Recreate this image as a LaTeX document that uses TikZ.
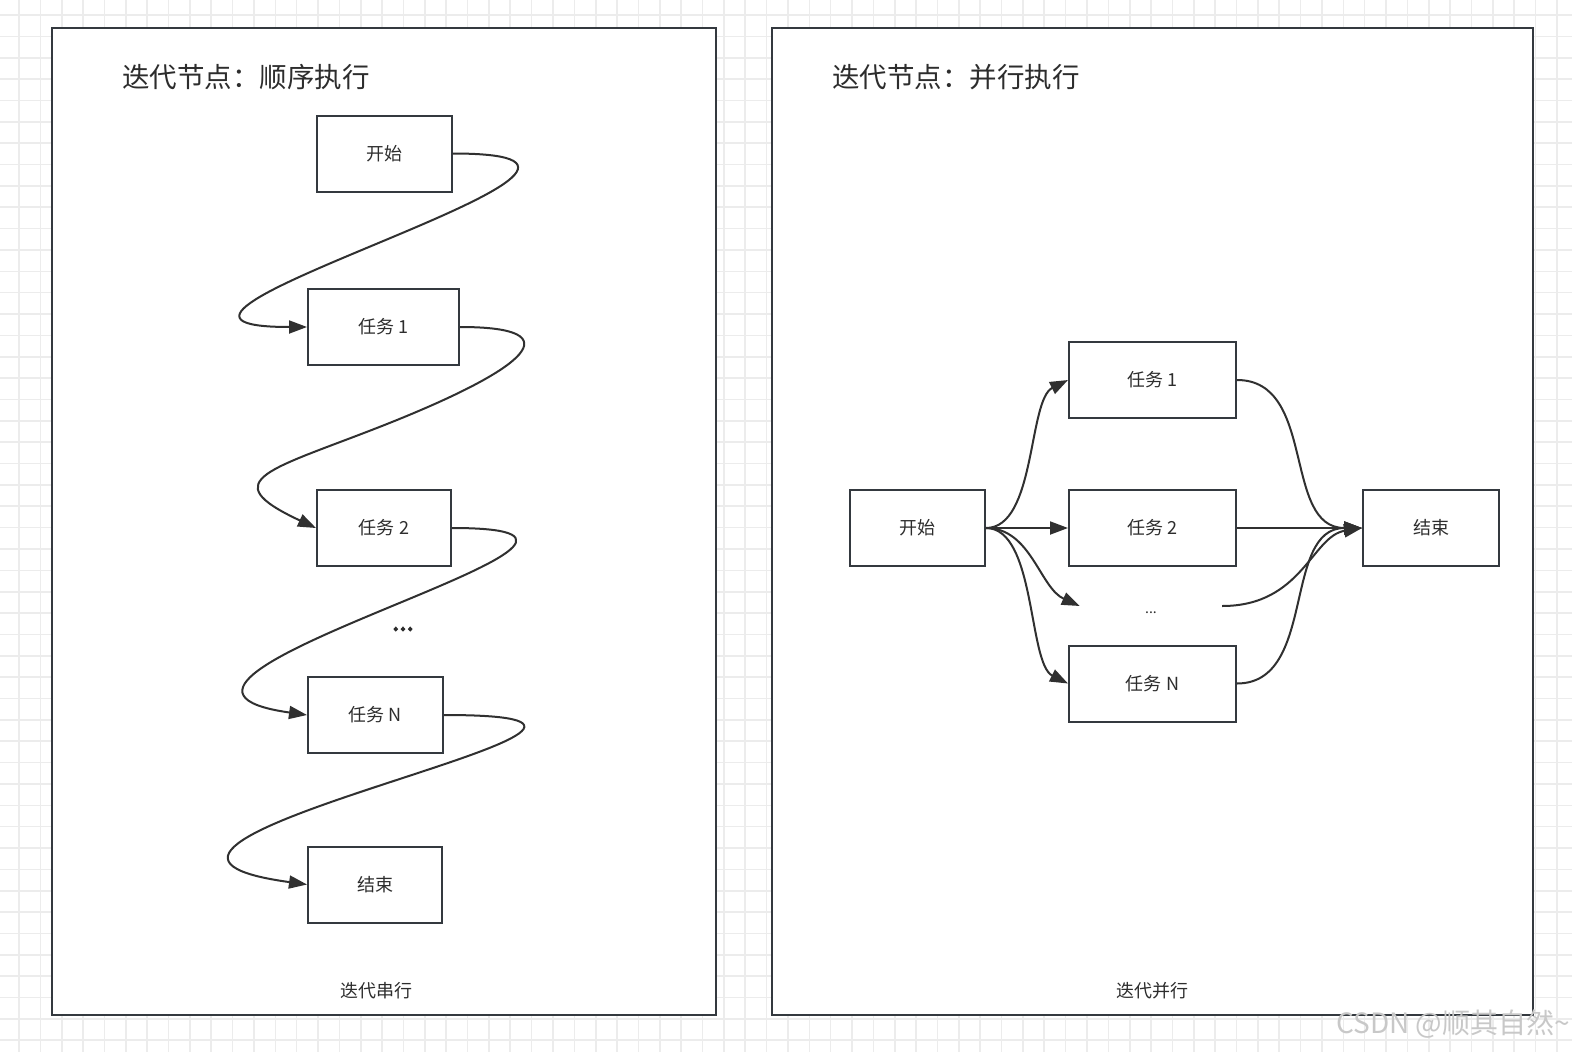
\documentclass[tikz,border=0pt]{standalone}
\usepackage{fontspec}
\setmainfont{Noto Sans CJK SC}
\newfontfamily\boldcjk[FakeBold=4]{Noto Sans CJK SC}
\usetikzlibrary{arrows.meta}
\definecolor{gridc}{RGB}{236,236,236}
\definecolor{bordc}{RGB}{52,57,63}
\definecolor{edgec}{RGB}{48,48,48}
\definecolor{textc}{RGB}{45,45,45}
\definecolor{wmc}{RGB}{200,200,200}
\tikzset{
  gridline/.style={draw=gridc, line width=1.6pt},
  panel/.style={draw=bordc, line width=2.4pt, fill=white, inner sep=0pt},
  box/.style={draw=bordc, line width=2pt, fill=white, minimum height=76pt, inner sep=0pt,
    font=\fontsize{18}{18}\selectfont, text=textc},
  titletext/.style={inner sep=0pt, font=\fontsize{27.5}{27.5}\selectfont, text=textc},
  lbl/.style={inner sep=0pt, font=\fontsize{18}{18}\selectfont, text=textc},
  conn/.style={draw=edgec, line width=2pt, -{Triangle[length=18pt,width=13pt]}},
  wm/.style={inner sep=0pt, font=\fontsize{28}{28}\selectfont, text=wmc}
}
\begin{document}
\begin{tikzpicture}[x=1pt,y=-1pt]
\useasboundingbox (0,0) rectangle (1572,1052);
\fill[white] (0,0) rectangle (1572,1052);
% background grid
\foreach \i in {0,...,73} \draw[gridline] ({19+21.36*\i},0) -- ({19+21.36*\i},1052);
\foreach \j in {0,...,49} \draw[gridline] (0,{15+21.36*\j}) -- (1572,{15+21.36*\j});

% panels
\node[panel, minimum width=664pt, minimum height=987pt] (lp) at (384,521.5) {};
\node[panel, minimum width=761pt, minimum height=987pt] (rp) at (1152.5,521.5) {};

% titles
\node[titletext, anchor=west] (lt) at (122,77) {迭代节点：顺序执行};
\node[titletext, anchor=west] (rt) at (832,77) {迭代节点：并行执行};

% bottom labels
\node[lbl] (lb) at (376,991) {迭代串行};
\node[lbl] (rb) at (1152,991) {迭代并行};

% left: sequential
\node[box, minimum width=135pt] (s1) at (384,153.5) {开始};
\node[box, minimum width=151pt] (t1) at (383.5,327) {任务 1};
\node[box, minimum width=134pt] (t2) at (384,528) {任务 2};
\node[box, minimum width=135pt] (tn) at (375.5,715) {任务 N};
\node[box, minimum width=134pt] (e1) at (375,884.5) {结束};
\node[inner sep=0pt, anchor=base, font=\boldcjk\fontsize{26}{26}\selectfont, text=textc] (ld) at (403,630.5) {...};
\coordinate (m2) at (387,424);

\draw[conn] (s1.east) .. controls +(270,0) and +(-250,0) .. (t1.west);
\draw[conn] (t1.east) .. controls +(115,0) and +(139.5,-55.5) .. (m2)
            .. controls +(-116,46) and +(-104,-48.6) .. (t2.west);
\draw[conn] (t2.east) .. controls +(264,0) and +(-240,-34) .. (tn.west);
\draw[conn] (tn.east) .. controls +(318,0) and +(-292,-40) .. (e1.west);

% right: parallel
\node[box, minimum width=135pt] (rs) at (917.5,528) {开始};
\node[box, minimum width=167pt] (r1) at (1152.5,380) {任务 1};
\node[box, minimum width=167pt] (r2) at (1152.5,528) {任务 2};
\node[box, minimum width=167pt] (rn) at (1152.5,683.5) {任务 N};
\node[box, minimum width=136pt] (re) at (1431,528) {结束};
\node[inner sep=0pt, minimum width=142pt, text height=14pt, text depth=0pt,
      font=\fontsize{14}{14}\selectfont, text=textc] (rd) at (1151,606) {...};

\draw[conn] (rs.east) .. controls +(50,0) and +(-40,20) .. (r1.west);
\draw[conn] (rs.east) -- (r2.west);
\draw[conn] (rs.east) .. controls +(45,0) and +(-40,-18) .. (rd.west);
\draw[conn] (rs.east) .. controls +(50,0) and +(-40,-20) .. (rn.west);

\draw[conn] (r1.east) .. controls +(80,0) and +(-80,0) .. (re.west);
\draw[conn] (r2.east) -- (re.west);
\draw[conn] (rd.east) .. controls +(80,0) and +(-50,8) .. (re.west);
\draw[conn] (rn.east) .. controls +(80,0) and +(-80,0) .. (re.west);

% watermark
\node[wm, anchor=east] (wmk) at (1570,1024) {CSDN @顺其自然\textasciitilde};
\end{tikzpicture}
\end{document}
